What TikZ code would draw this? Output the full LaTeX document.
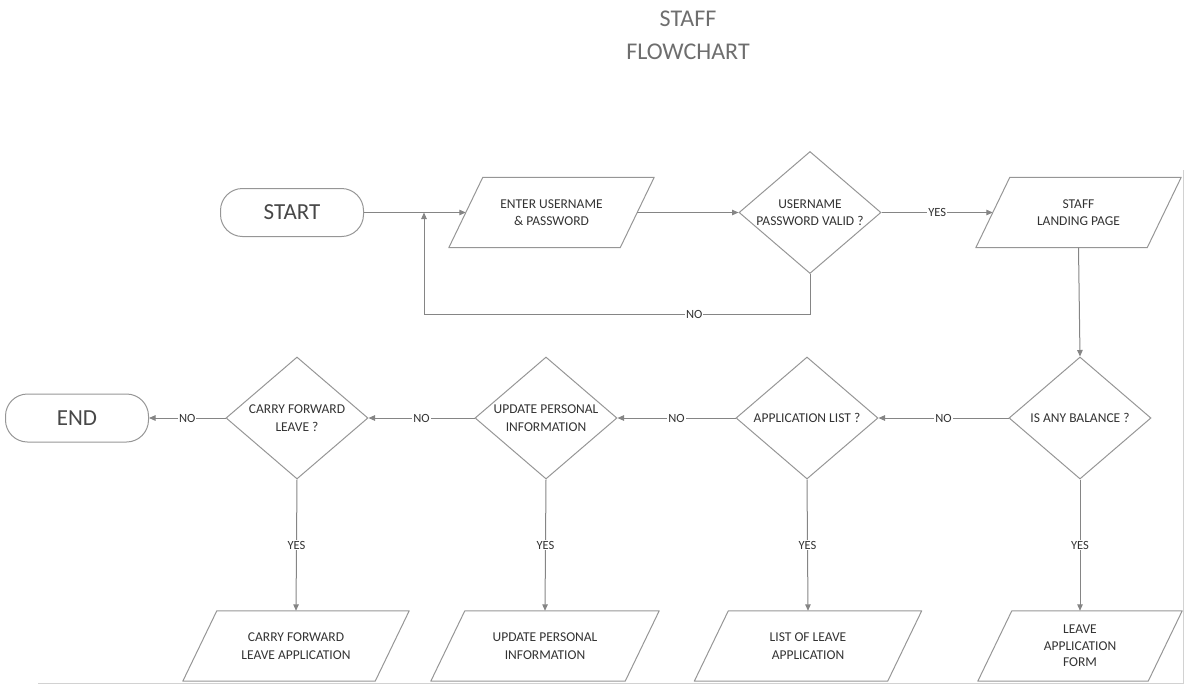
\documentclass[tikz,border=0pt]{standalone}
\usepackage{fontspec}
\setmainfont{Carlito}
\usetikzlibrary{shapes.geometric,arrows.meta}
\definecolor{linec}{HTML}{858585}
\definecolor{shapec}{HTML}{969696}
\definecolor{txtc}{HTML}{333333}
\definecolor{titlec}{HTML}{6E6E6E}
\begin{document}
\begin{tikzpicture}[x=1pt,y=-1pt,
  every node/.style={text=txtc},
  shapetext/.style={font=\fontsize{13.5}{17.5}\selectfont,align=center,text=txtc},
  terminal/.style={draw=shapec,line width=1pt,rounded corners=22pt,minimum width=143pt,minimum height=48pt,inner sep=0pt,font=\fontsize{23}{26}\selectfont,text=txtc!90!white},
  decision/.style={draw=shapec,line width=1pt,diamond,minimum width=142pt,minimum height=122pt,inner sep=0pt},
  io/.style={minimum width=#1,minimum height=70pt,inner sep=0pt},
  slant/.style={draw=shapec,line width=1pt,line join=round},
  conn/.style={draw=linec,line width=1pt},
  arr/.style={conn,-{Triangle[length=6.5pt,width=5.5pt]}},
  lab/.style={fill=white,inner sep=1pt,font=\fontsize{12.5}{12.5}\selectfont,text=txtc}
]
\useasboundingbox (0,0) rectangle (1184,686);
% scan edge lines
\draw[gray!35,line width=1pt] (38,683.5) -- (1184,683.5);
\draw[gray!35,line width=1pt] (1183,170) -- (1183,683.5);
% title
\node[font=\fontsize{24}{33}\selectfont,text=titlec,align=center] (title) at (688,35) {STAFF\\FLOWCHART};
% top row
\node[terminal] (start) at (292,212.5) {START};
\node[io=171pt,label={[shapetext]center:ENTER USERNAME\\\& PASSWORD}] (enter) at (551.5,212.5) {};
\node[decision,label={[shapetext]center:USERNAME\\PASSWORD VALID ?}] (valid) at (810,212.5) {};
\node[io=171pt,label={[shapetext]center:STAFF\\LANDING PAGE}] (staff) at (1078.5,212.5) {};
% middle row
\node[decision,label={[shapetext]center:IS ANY BALANCE ?}] (balance) at (1080,418) {};
\node[decision,label={[shapetext]center:APPLICATION LIST ?}] (applist) at (807,418) {};
\node[decision,label={[shapetext]center:UPDATE PERSONAL\\INFORMATION}] (update) at (546,418) {};
\node[decision,label={[shapetext]center:CARRY FORWARD\\LEAVE ?}] (carry) at (297,418) {};
\node[terminal] (end) at (77,418) {END};
% bottom row
\node[io=170pt,label={[shapetext,font=\fontsize{13.5}{16.5}\selectfont]center:LEAVE\\APPLICATION\\FORM}] (form) at (1080,646) {};
\node[io=193pt,label={[shapetext]center:LIST OF LEAVE\\APPLICATION}] (list) at (808,646) {};
\node[io=194pt,label={[shapetext]center:UPDATE PERSONAL\\INFORMATION}] (upinfo) at (545,646) {};
\node[io=192pt,label={[shapetext]center:CARRY FORWARD\\LEAVE APPLICATION}] (cfla) at (296,646) {};
% parallelogram outlines
\foreach \n in {enter,staff,form,list,upinfo,cfla}
  \draw[slant] ([xshift=-17pt]\n.south west) -- ([xshift=17pt]\n.north west) -- ([xshift=17pt]\n.north east) -- ([xshift=-17pt]\n.south east) -- cycle;
% connectors top
\coordinate (join) at (424,212.5);
\coordinate (loopr) at (810,314);
\coordinate (loopl) at (424,314);
\draw[arr] (start.east) -- (enter.west);
\draw[arr] (enter.east) -- (valid.west);
\draw[arr] (valid.east) -- node[lab]{YES} (staff.west);
\draw[conn] (valid.south) -- (loopr) -- node[lab,pos=0.3]{NO} (loopl);
\draw[arr] (loopl) -- (join);
\draw[arr] (staff.south) -- (balance.north);
% middle row connectors
\draw[arr] (balance.west) -- node[lab]{NO} (applist.east);
\draw[arr] (applist.west) -- node[lab]{NO} (update.east);
\draw[arr] (update.west) -- node[lab]{NO} (carry.east);
\draw[arr] (carry.west) -- node[lab]{NO} (end.east);
% vertical connectors
\draw[arr] (balance.south) -- node[lab]{YES} (form.north);
\draw[arr] (applist.south) -- node[lab]{YES} (list.north);
\draw[arr] (update.south) -- node[lab]{YES} (upinfo.north);
\draw[arr] (carry.south) -- node[lab]{YES} (cfla.north);
\end{tikzpicture}
\end{document}
